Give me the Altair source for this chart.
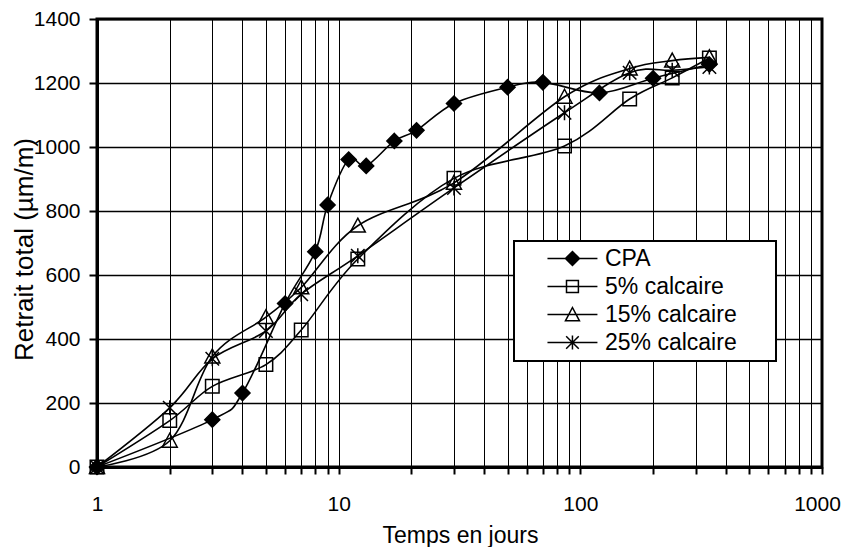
import altair as alt
import pandas as pd

# ---- data ----
series_names = ["CPA", "5% calcaire", "15% calcaire", "25% calcaire"]

days_cpa = [1, 3, 4, 6, 8, 9, 11, 13, 17, 21, 30, 50, 70, 120, 200, 342]
vals_cpa = [0, 148, 231, 511, 673, 819, 961, 941, 1019, 1052, 1136, 1187, 1202, 1169, 1215, 1258]

days_5 = [1, 2, 3, 5, 7, 12, 30, 86, 160, 240, 342]
vals_5 = [0, 145, 252, 320, 428, 650, 902, 1003, 1150, 1216, 1278]

days_15 = [1, 2, 3, 5, 7, 12, 30, 86, 160, 240, 342]
vals_15 = [0, 82, 345, 468, 561, 754, 888, 1157, 1245, 1270, 1280]

days_25 = [1, 2, 3, 5, 7, 12, 30, 86, 160, 240, 342]
vals_25 = [0, 185, 338, 425, 540, 660, 872, 1107, 1232, 1240, 1250]

x_ticks = [1, 2, 3, 4, 5, 6, 7, 8, 9, 10, 20, 30, 40, 50, 60, 70, 80, 90,
           100, 200, 300, 400, 500, 600, 700, 800, 900, 1000]
y_ticks = [0, 200, 400, 600, 800, 1000, 1200, 1400]

rows = []
for name, ds, vs in zip(series_names, [days_cpa, days_5, days_15, days_25],
                        [vals_cpa, vals_5, vals_15, vals_25]):
    for d, v in zip(ds, vs):
        rows.append({"series": name, "jours": d, "retrait": v})
df = pd.DataFrame(rows)

FONT = "Liberation Sans"

# marker shapes (unit square coords)
plot_shapes = [
    "M0,-1L1,0L0,1L-1,0Z",
    "M-0.9,-0.9L0.9,-0.9L0.9,0.9L-0.9,0.9Z",
    "M0,-1L1,0.85L-1,0.85Z",
    "M0,-1L0,1M-0.9,-0.9L0.9,0.9M-0.9,0.9L0.9,-0.9",
]

# legend symbols: marker shifted right + a horizontal line through it,
# plus an invisible zero-length segment that widens the legend box
c = 5.85
L0, L1 = 2.28, 9.42
R = 33.6
line = f"M{L0},0L{L1},0M{R},0L{R},0"
legend_shapes = [
    f"M{c},-1L{c+1},0L{c},1L{c-1},0Z" + line,
    f"M{c-0.85},-0.85L{c+0.85},-0.85L{c+0.85},0.85L{c-0.85},0.85Z" + line,
    f"M{c},-1L{c+1},0.9L{c-1},0.9Z" + line,
    f"M{c},-1L{c},1M{c-0.9},-0.9L{c+0.9},0.9M{c-0.9},0.9L{c+0.9},-0.9" + line,
]
fills = ["black", "transparent", "transparent", "transparent"]
strokes = ["black", "black", "black", "black"]

x_enc = alt.X(
    "jours:Q",
    scale=alt.Scale(type="log", domain=[1, 1000], nice=False),
    axis=alt.Axis(
        title="Temps en jours",
        values=x_ticks,
        format="d",
        labelExpr="(datum.value==1||datum.value==10||datum.value==100||datum.value==1000) ? datum.label : ''",
        labelOffset={"condition": {"test": "datum.value == 1000", "value": -5}, "value": 0},
        grid=True, gridColor="black", gridWidth=1, gridOpacity=1,
        tickSize=7, tickWidth=2, tickColor="black",
        domainColor="black", domainWidth=3,
        labelFlush=False, labelOverlap=False, labelBound=False,
        labelFont=FONT, labelFontSize=21, labelColor="black", labelPadding=19,
        titleFont=FONT, titleFontSize=23, titleFontWeight="normal", titleColor="black",
        titleX=363, titleY=75, titleBaseline="alphabetic", titleAlign="center",
    ),
)
y_enc = alt.Y(
    "retrait:Q",
    scale=alt.Scale(domain=[0, 1400], nice=False),
    axis=alt.Axis(
        title="Retrait total (µm/m)",
        values=y_ticks,
        format="d",
        grid=True, gridColor="black", gridWidth=1.5, gridOpacity=1,
        tickSize=8, tickWidth=2, tickColor="black",
        domainColor="black", domainWidth=3,
        labelFlush=False, labelOverlap=False,
        labelFont=FONT, labelFontSize=21, labelColor="black", labelPadding=9,
        titleFont=FONT, titleFontSize=26, titleFontWeight="normal", titleColor="black",
        titleX=-65, titleY=230, titleBaseline="alphabetic", titleAlign="center", titleAngle=-90,
    ),
)

base = alt.Chart(df)

lines = base.mark_line(interpolate="cardinal", color="black", strokeWidth=1.6).encode(
    x=x_enc, y=y_enc, detail="series:N"
)

points = base.mark_point(size=225, stroke="black", strokeWidth=1.5, opacity=1).encode(
    x=x_enc, y=y_enc,
    shape=alt.Shape("series:N", scale=alt.Scale(domain=series_names, range=plot_shapes), legend=None),
    fill=alt.Fill("series:N", scale=alt.Scale(domain=series_names, range=fills), legend=None),
)

legend_cfg = alt.Legend(
    title=None, orient="none", legendX=417, legendY=222,
    strokeColor="black", fillColor="white", padding=6,
    symbolSize=196, symbolStrokeWidth=1.5, symbolStrokeColor="black",
    labelFont=FONT, labelFontSize=23, labelColor="black", labelOffset=62,
    rowPadding=4, labelLimit=400,
)

legend_layer = base.transform_filter("false").mark_point(
    size=196, strokeWidth=1.5, opacity=1
).encode(
    x=x_enc, y=y_enc,
    shape=alt.Shape("series:N", scale=alt.Scale(domain=series_names, range=legend_shapes), legend=legend_cfg),
    fill=alt.Fill("series:N", scale=alt.Scale(domain=series_names, range=fills), legend=legend_cfg),
    stroke=alt.Stroke("series:N", scale=alt.Scale(domain=series_names, range=strokes), legend=legend_cfg),
)

chart = alt.layer(lines, points, legend_layer).resolve_scale(
    shape="independent", fill="independent", stroke="independent"
).properties(
    width=725, height=448,
    autosize=alt.AutoSizeParams(type="none"),
    padding={"left": 89, "top": 11, "right": 19, "bottom": 80},
    background="white",
).configure_view(
    stroke="black", strokeWidth=3
).configure_legend(
    strokeWidth=2
)

chart.save("out.html", embed_options={"renderer": "svg", "actions": False})
